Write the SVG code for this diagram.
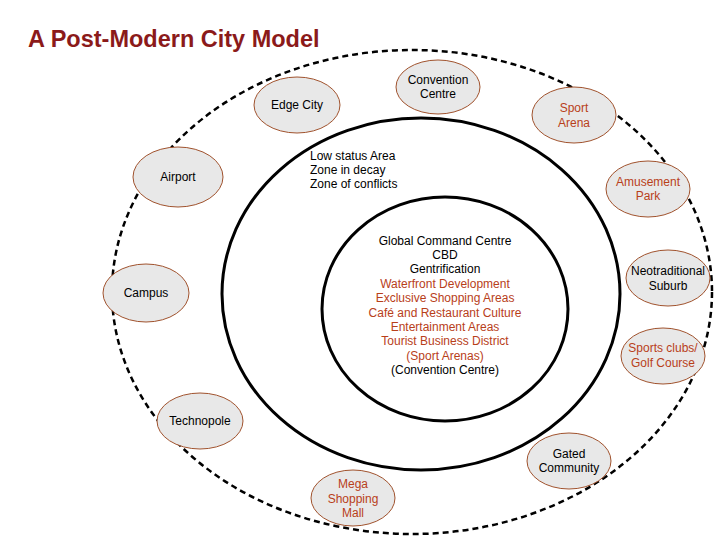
<svg xmlns="http://www.w3.org/2000/svg" width="720" height="540" viewBox="0 0 720 540">
<style>
text{font-family:"Liberation Sans",Arial,sans-serif;font-size:12px;text-anchor:middle}
.n{fill:#e8e8e8;stroke:#a0522d;stroke-width:1}
.r{fill:#b8401a}
.k{fill:#000}
.ring{fill:none;stroke:#000;stroke-width:3}
</style>
<rect width="720" height="540" fill="#fff"/>
<text x="28" y="47" style="text-anchor:start;font-size:23.5px;font-weight:bold" fill="#8b1a1a">A Post-Modern City Model</text>
<g id="connectors">
<ellipse cx="412" cy="292" rx="300" ry="242" fill="none" stroke="#000" stroke-width="2.5" stroke-dasharray="6,4"/>
<ellipse class="ring" cx="421" cy="294" rx="199" ry="176"/>
<ellipse class="ring" cx="445" cy="309" rx="123" ry="112"/>
</g>
<g id="low" class="k"><text x="310" y="160" style="text-anchor:start">Low status Area</text><text x="310" y="174" style="text-anchor:start">Zone in decay</text><text x="310" y="188" style="text-anchor:start">Zone of conflicts</text></g>
<g id="core">
<text x="445" y="245" class="k">Global Command Centre</text>
<text x="445" y="259" class="k">CBD</text>
<text x="445" y="273" class="k">Gentrification</text>
<text x="445" y="288" class="r">Waterfront Development</text>
<text x="445" y="302" class="r">Exclusive Shopping Areas</text>
<text x="445" y="317" class="r">Café and Restaurant Culture</text>
<text x="445" y="331" class="r">Entertainment Areas</text>
<text x="445" y="345" class="r">Tourist Business District</text>
<text x="445" y="360" class="r">(Sport Arenas)</text>
<text x="445" y="374" class="k">(Convention Centre)</text>
</g>
<g id="convention"><ellipse class="n" cx="438" cy="87" rx="42" ry="27"/><text x="438" y="84">Convention</text><text x="438" y="98">Centre</text></g>
<g id="edge"><ellipse class="n" cx="297" cy="105" rx="43" ry="28"/><text x="297" y="109">Edge City</text></g>
<g id="sport"><ellipse class="n" cx="574" cy="115" rx="42" ry="28"/><text class="r" x="574" y="112">Sport</text><text class="r" x="574" y="127">Arena</text></g>
<g id="airport"><ellipse class="n" cx="178" cy="177" rx="45" ry="30"/><text x="178" y="181">Airport</text></g>
<g id="amusement"><ellipse class="n" cx="648" cy="189" rx="42" ry="28"/><text class="r" x="648" y="186">Amusement</text><text class="r" x="648" y="200">Park</text></g>
<g id="campus"><ellipse class="n" cx="146" cy="293" rx="43" ry="29"/><text x="146" y="297">Campus</text></g>
<g id="neo"><ellipse class="n" cx="668" cy="278" rx="42" ry="28"/><text x="668" y="275">Neotraditional</text><text x="668" y="290">Suburb</text></g>
<g id="clubs"><ellipse class="n" cx="663" cy="356" rx="42" ry="28"/><text class="r" x="663" y="352">Sports clubs/</text><text class="r" x="663" y="367">Golf Course</text></g>
<g id="technopole"><ellipse class="n" cx="200" cy="421" rx="43" ry="28"/><text x="200" y="425">Technopole</text></g>
<g id="gated"><ellipse class="n" cx="569" cy="461" rx="42" ry="28"/><text x="569" y="458">Gated</text><text x="569" y="472">Community</text></g>
<g id="mall"><ellipse class="n" cx="353" cy="498" rx="42" ry="28"/><text class="r" x="353" y="488">Mega</text><text class="r" x="353" y="503">Shopping</text><text class="r" x="353" y="517">Mall</text></g>
</svg>
